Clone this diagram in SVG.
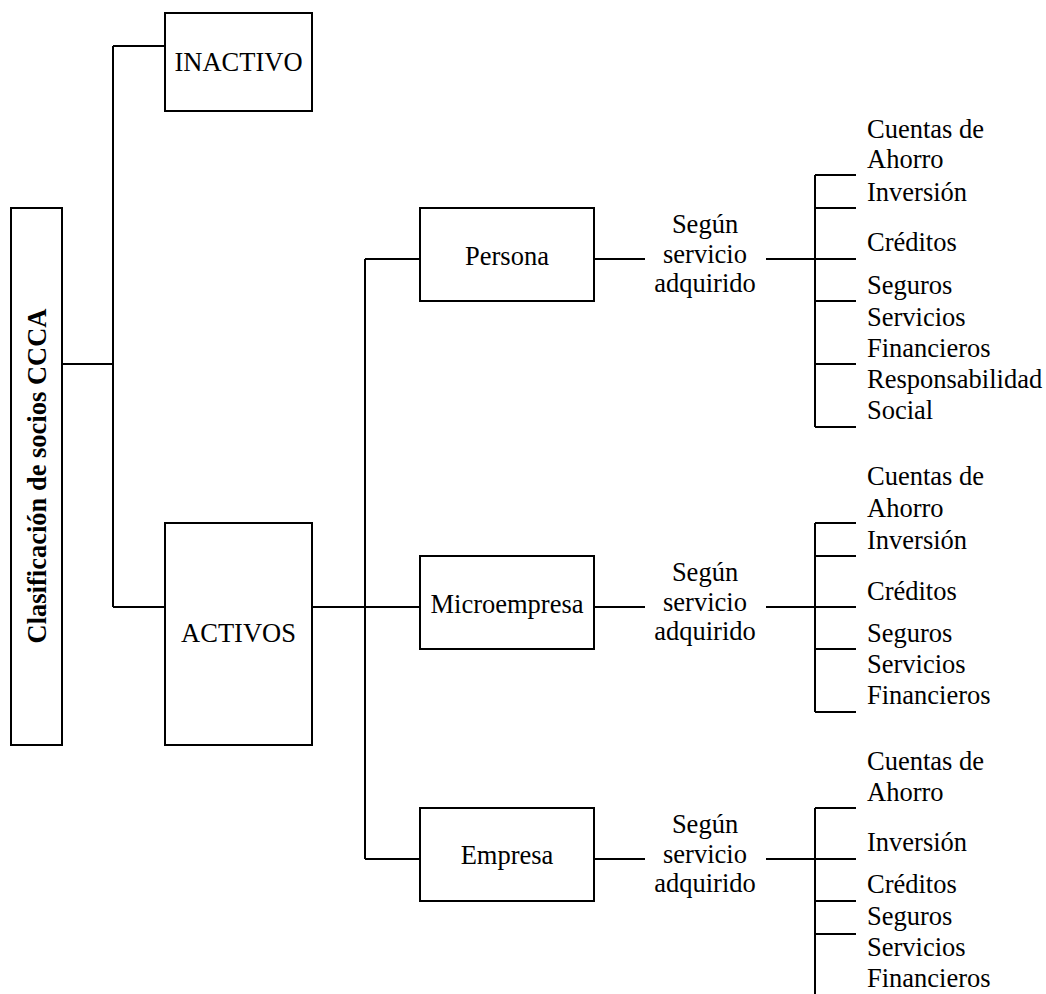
<svg xmlns="http://www.w3.org/2000/svg" width="1046" height="994" viewBox="0 0 1046 994">
  <style>
    .box { fill: #fff; stroke: #000; stroke-width: 2; }
    .ln { fill: none; stroke: #000; stroke-width: 2; }
    text { font-family: "Liberation Serif", "Times New Roman", serif; font-size: 26.5px; fill: #000; }
    .c { text-anchor: middle; }
    .title { font-weight: bold; text-anchor: middle; }
  </style>
  <rect width="1046" height="994" fill="#fff"/>

  <!-- connectors -->
  <g id="connectors">
    <!-- root to the two states -->
    <path class="ln" d="M62 364 H113 M113 46 V607 M113 46 H165 M113 607 H165"/>
    <!-- ACTIVOS to the three member types -->
    <path class="ln" d="M312 607 H420 M365 259 V859 M365 259 H420 M365 859 H420"/>
    <!-- member types to "Según servicio adquirido" -->
    <path class="ln" d="M594 259 H645 M594 607 H645 M594 859 H645"/>
    <!-- Persona service bracket -->
    <path class="ln" d="M766 259 H815 M815 175 V427 M815 175 H856 M815 208 H856 M815 259 H856 M815 301 H856 M815 364 H856 M815 427 H856"/>
    <!-- Microempresa service bracket -->
    <path class="ln" d="M766 607 H815 M815 523 V712 M815 523 H856 M815 556 H856 M815 607 H856 M815 649 H856 M815 712 H856"/>
    <!-- Empresa service bracket -->
    <path class="ln" d="M766 859 H815 M815 808 V994 M815 808 H856 M815 859 H856 M815 901 H856 M815 934 H856"/>
  </g>

  <g id="root">
    <rect class="box" x="11" y="208" width="51" height="537"/>
    <text class="title" transform="translate(46 476) rotate(-90)">Clasificación de socios CCCA</text>
  </g>

  <g id="inactivo">
    <rect class="box" x="165" y="13" width="147" height="98"/>
    <text class="c" x="238.5" y="71">INACTIVO</text>
  </g>

  <g id="activos">
    <rect class="box" x="165" y="523" width="147" height="222"/>
    <text class="c" x="238.5" y="642">ACTIVOS</text>
  </g>

  <g id="persona">
    <rect class="box" x="420" y="208" width="174" height="93"/>
    <text class="c" x="507" y="265">Persona</text>
  </g>

  <g id="microempresa">
    <rect class="box" x="420" y="556" width="174" height="93"/>
    <text class="c" x="507" y="613">Microempresa</text>
  </g>

  <g id="empresa">
    <rect class="box" x="420" y="808" width="174" height="93"/>
    <text class="c" x="507" y="864">Empresa</text>
  </g>

  <g id="servicio-persona">
    <text class="c" x="705" y="233">Según</text>
    <text class="c" x="705" y="263">servicio</text>
    <text class="c" x="705" y="292">adquirido</text>
  </g>
  <g id="servicio-microempresa">
    <text class="c" x="705" y="581">Según</text>
    <text class="c" x="705" y="611">servicio</text>
    <text class="c" x="705" y="640">adquirido</text>
  </g>
  <g id="servicio-empresa">
    <text class="c" x="705" y="833">Según</text>
    <text class="c" x="705" y="863">servicio</text>
    <text class="c" x="705" y="892">adquirido</text>
  </g>

  <g id="servicios-persona">
    <text x="867" y="138">Cuentas de</text>
    <text x="867" y="168">Ahorro</text>
    <text x="867" y="201">Inversión</text>
    <text x="867" y="251">Créditos</text>
    <text x="867" y="294">Seguros</text>
    <text x="867" y="326">Servicios</text>
    <text x="867" y="357">Financieros</text>
    <text x="867" y="388">Responsabilidad</text>
    <text x="867" y="419">Social</text>
  </g>

  <g id="servicios-microempresa">
    <text x="867" y="485">Cuentas de</text>
    <text x="867" y="517">Ahorro</text>
    <text x="867" y="549">Inversión</text>
    <text x="867" y="600">Créditos</text>
    <text x="867" y="642">Seguros</text>
    <text x="867" y="673">Servicios</text>
    <text x="867" y="704">Financieros</text>
  </g>

  <g id="servicios-empresa">
    <text x="867" y="770">Cuentas de</text>
    <text x="867" y="801">Ahorro</text>
    <text x="867" y="851">Inversión</text>
    <text x="867" y="893">Créditos</text>
    <text x="867" y="925">Seguros</text>
    <text x="867" y="956">Servicios</text>
    <text x="867" y="987">Financieros</text>
  </g>
</svg>
